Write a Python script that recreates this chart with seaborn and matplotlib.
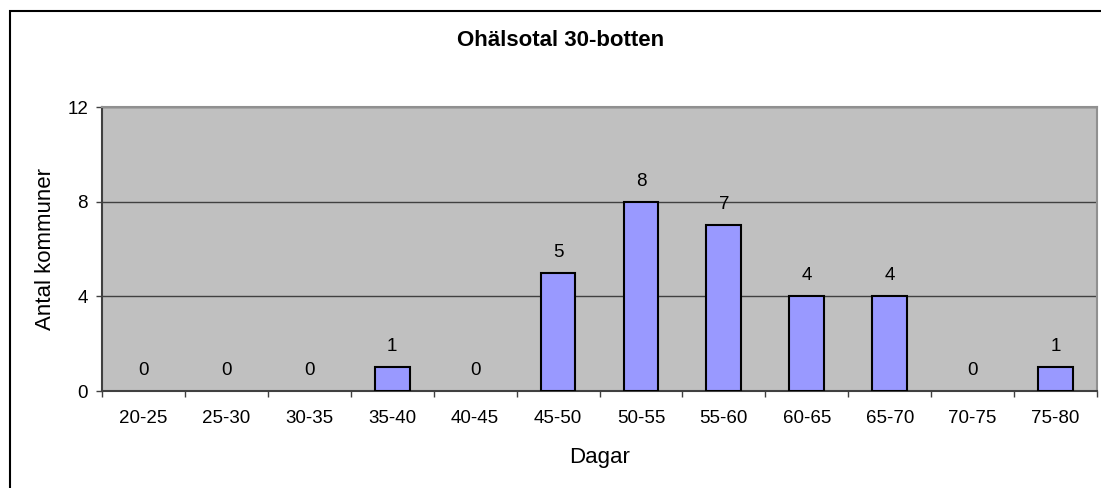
import seaborn as sns
import matplotlib.pyplot as plt
import pandas as pd
from matplotlib.patches import Rectangle

# data
intervall = ['20-25', '25-30', '30-35', '35-40', '40-45', '45-50',
             '50-55', '55-60', '60-65', '65-70', '70-75', '75-80']
antal = [0, 0, 0, 1, 0, 5, 8, 7, 4, 4, 0, 1]

df = pd.DataFrame({'Dagar': intervall, 'Antal kommuner': antal})

sns.set_style('white')
plt.rcParams['font.family'] = ['Liberation Sans', 'DejaVu Sans']
plt.rcParams['text.color'] = 'black'
plt.rcParams['axes.labelcolor'] = 'black'
plt.rcParams['xtick.color'] = 'black'
plt.rcParams['ytick.color'] = 'black'

W, H = 1101, 488
fig = plt.figure(figsize=(W / 100, H / 100), dpi=100)
ax = fig.add_axes([102 / W, 1 - 391 / H, (1097 - 102) / W, (391 - 107) / H])

sns.barplot(data=df, x='Dagar', y='Antal kommuner', ax=ax, color='#9999FF',
            saturation=1, width=0.42, edgecolor='black', linewidth=1.5, zorder=3)

# no outline for empty bars
for p, v in zip(ax.patches, antal):
    if v == 0:
        p.set_linewidth(0)

ax.set_facecolor('#C0C0C0')
ax.set_ylim(0, 12)
ax.set_xlim(-0.5, len(intervall) - 0.5)
ax.set_yticks([0, 4, 8, 12])
ax.yaxis.grid(True, color='#404040', linewidth=1, zorder=0)
ax.set_axisbelow(True)

# tick marks between categories on x axis
ax.set_xticks(range(len(intervall)))
ax.set_xticklabels(intervall)
ax.tick_params(axis='x', length=0, pad=14, labelsize=13.5)
ax.set_xticks([i - 0.5 for i in range(len(intervall) + 1)], minor=True)
ax.tick_params(axis='x', which='minor', length=4.5, width=1, color='#404040', direction='out')
ax.tick_params(axis='y', length=4, width=1, color='#404040', direction='out', labelsize=13.5, pad=6)
ax.xaxis.set_ticks_position('bottom')
ax.yaxis.set_ticks_position('left')

for side in ['top', 'right']:
    ax.spines[side].set_color('#909090')
    ax.spines[side].set_linewidth(1.5)
for side in ['left', 'bottom']:
    ax.spines[side].set_color('#404040')
    ax.spines[side].set_linewidth(1.5)

for i, v in enumerate(antal):
    ax.text(i, v + 0.87, str(v), ha='center', va='center', fontsize=13.5, zorder=4)

ax.set_xlabel('Dagar', fontsize=16)
ax.set_ylabel('Antal kommuner', fontsize=16)
ax.xaxis.set_label_coords(0.5, (391 - 457) / 284)
ax.xaxis.label.set_va('center')
ax.yaxis.set_label_coords((46 - 102) / 995, 0.5)
ax.yaxis.label.set_va('center')

fig.text(561 / W, 1 - 41 / H, 'Ohälsotal 30-botten', ha='center', va='center',
         fontsize=16, fontweight='bold')

# outer chart frame (right and bottom edges fall outside the image)
fig.patches.append(Rectangle((9.5 / W, -0.1), 1.2, 1 - 10.5 / H + 0.1,
                             transform=fig.transFigure, fill=False,
                             edgecolor='black', linewidth=1.5))

fig.savefig('out.png', dpi=100)
